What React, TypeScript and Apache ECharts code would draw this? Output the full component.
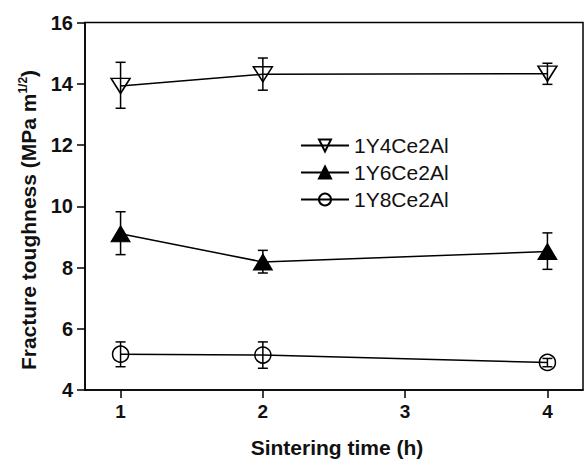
import React, { useEffect, useRef } from "react";
import * as echarts from "echarts";

const xTicks = [1, 2, 3, 4];
const yTicks = [4, 6, 8, 10, 12, 14, 16];
const seriesNames = ["1Y4Ce2Al", "1Y6Ce2Al", "1Y8Ce2Al"];
const sinteringTime = [1, 2, 4];
const toughY4 = [13.93, 14.31, 14.33];
const errLowY4 = [13.2, 13.79, 13.98];
const errHighY4 = [14.7, 14.84, 14.67];
const toughY6 = [9.1, 8.18, 8.52];
const errLowY6 = [8.42, 7.82, 7.94];
const errHighY6 = [9.82, 8.56, 9.13];
const toughY8 = [5.17, 5.14, 4.9];
const errLowY8 = [4.76, 4.71, 4.76];
const errHighY8 = [5.57, 5.57, 5.03];

const FONT = "'Liberation Sans', Arial, Helvetica, sans-serif";
const downTri = "path://M0,0 L20,0 L10,15 Z";

function points(ys: number[]) {
  return sinteringTime.map((x, i) => [x, ys[i]]);
}
function errData(lo: number[], hi: number[]) {
  return sinteringTime.map((x, i) => [x, lo[i], hi[i]]);
}

function errorSeries(lo: number[], hi: number[]) {
  return {
    type: "custom",
    data: errData(lo, hi),
    z: 3,
    silent: true,
    renderItem: (_params: any, api: any) => {
      const x = api.value(0);
      const a = api.coord([x, api.value(1)]);
      const b = api.coord([x, api.value(2)]);
      const hw = 5;
      const style = { stroke: "#000", lineWidth: 1.5 };
      return {
        type: "group",
        children: [
          { type: "line", shape: { x1: a[0], y1: a[1], x2: b[0], y2: b[1] }, style },
          { type: "line", shape: { x1: a[0] - hw, y1: a[1], x2: a[0] + hw, y2: a[1] }, style },
          { type: "line", shape: { x1: b[0] - hw, y1: b[1], x2: b[0] + hw, y2: b[1] }, style },
        ],
      };
    },
  };
}

export default function App() {
  const ref = useRef<HTMLDivElement>(null);
  useEffect(() => {
    if (!ref.current) return;
    const chart = echarts.init(ref.current, null, { renderer: "svg" });
    const lineCommon = {
      type: "line",
      z: 4,
      lineStyle: { color: "#000", width: 1.5 },
    };
    chart.setOption({
      animation: false,
      backgroundColor: "#fff",
      grid: {
        left: 85,
        right: 3,
        top: 22.5,
        bottom: 69,
        show: true,
        borderColor: "#000",
        borderWidth: 1.5,
      },
      legend: {
        orient: "vertical",
        left: 300,
        top: 135,
        padding: 0,
        itemWidth: 48,
        itemHeight: 15,
        itemGap: 6,
        data: seriesNames,
        textStyle: { fontFamily: FONT, fontSize: 21, color: "#111", lineHeight: 21 },
        itemTextGap: 8,
      },
      xAxis: {
        type: "value",
        min: 0.75,
        max: 4.25,
        axisLine: { show: true, lineStyle: { color: "#000", width: 1.5 } },
        axisTick: { show: true, length: 8, lineStyle: { color: "#000", width: 1.5 }, customValues: xTicks },
        axisLabel: {
          customValues: xTicks,
          margin: 12,
          fontFamily: FONT,
          fontWeight: "bold",
          fontSize: 19,
          color: "#111",
        },
        splitLine: { show: false },
      },
      yAxis: {
        type: "value",
        min: 4,
        max: 16,
        interval: 2,
        axisLine: { show: true, lineStyle: { color: "#000", width: 1.5 } },
        axisTick: { show: true, length: 8, lineStyle: { color: "#000", width: 1.5 } },
        axisLabel: {
          margin: 12,
          fontFamily: FONT,
          fontWeight: "bold",
          fontSize: 20,
          color: "#111",
          formatter: (v: number) => (yTicks.includes(v) ? String(v) : ""),
        },
        splitLine: { show: false },
      },
      graphic: [
        {
          type: "text",
          x: 337,
          y: 447,
          style: {
            text: "Sintering time (h)",
            font: `bold 21px ${FONT}`,
            fill: "#111",
            align: "center",
            verticalAlign: "middle",
          },
        },
        {
          type: "text",
          x: 28,
          y: 220,
          rotation: Math.PI / 2,
          style: {
            text: "{a|Fracture toughness (MPa m}{s|1/2}{a|)}",
            align: "center",
            verticalAlign: "middle",
            fill: "#111",
            rich: {
              a: { font: `bold 21px ${FONT}`, fill: "#111", lineHeight: 22, verticalAlign: "bottom" },
              s: { font: `bold 12px ${FONT}`, fill: "#111", lineHeight: 22, verticalAlign: "top" },
            },
          },
        },
      ],
      series: [
        {
          ...lineCommon,
          name: seriesNames[0],
          data: points(toughY4),
          symbol: downTri,
          symbolSize: [19, 15],
          itemStyle: { color: "rgba(255,255,255,0)", borderColor: "#000", borderWidth: 1.5 },
        },
        {
          ...lineCommon,
          name: seriesNames[1],
          data: points(toughY6),
          symbol: "triangle",
          symbolSize: [19, 16],
          itemStyle: { color: "#000", borderColor: "#000", borderWidth: 1 },
        },
        {
          ...lineCommon,
          name: seriesNames[2],
          data: points(toughY8),
          symbol: "circle",
          symbolSize: 16,
          itemStyle: { color: "rgba(255,255,255,0)", borderColor: "#000", borderWidth: 1.5 },
        },
        errorSeries(errLowY4, errHighY4),
        errorSeries(errLowY6, errHighY6),
        errorSeries(errLowY8, errHighY8),
      ],
    });
    return () => chart.dispose();
  }, []);
  return (
    <div
      ref={ref}
      style={{ position: "fixed", left: 0, top: 0, width: 586, height: 459, background: "#fff" }}
    />
  );
}
